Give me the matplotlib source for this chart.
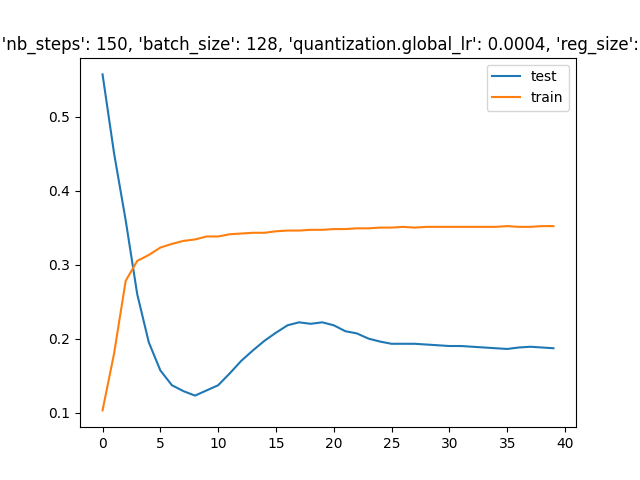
import matplotlib
matplotlib.use("Agg")
import matplotlib.pyplot as plt

test = [0.557, 0.45, 0.36, 0.26, 0.195, 0.157, 0.137, 0.129, 0.123, 0.130,
        0.137, 0.153, 0.170, 0.184, 0.197, 0.208, 0.218, 0.222, 0.220, 0.222,
        0.218, 0.210, 0.207, 0.200, 0.196, 0.193, 0.193, 0.193, 0.192, 0.191,
        0.190, 0.190, 0.189, 0.188, 0.187, 0.186, 0.188, 0.189, 0.188, 0.187]
train = [0.103, 0.18, 0.278, 0.305, 0.313, 0.323, 0.328, 0.332, 0.334, 0.338,
         0.338, 0.341, 0.342, 0.343, 0.343, 0.345, 0.346, 0.346, 0.347, 0.347,
         0.348, 0.348, 0.349, 0.349, 0.350, 0.350, 0.351, 0.350, 0.351, 0.351,
         0.351, 0.351, 0.351, 0.351, 0.351, 0.352, 0.351, 0.351, 0.352, 0.352]
title = "{'nb_steps': 150, 'batch_size': 128, 'quantization.global_lr': 0.0004, 'reg_size': 4}"

fig, ax = plt.subplots(figsize=(6.4, 4.8), dpi=100)
ax.plot(range(len(test)), test, label="test")
ax.plot(range(len(train)), train, label="train")
ax.set_title(title)
ax.legend()
fig.savefig("out.png")
